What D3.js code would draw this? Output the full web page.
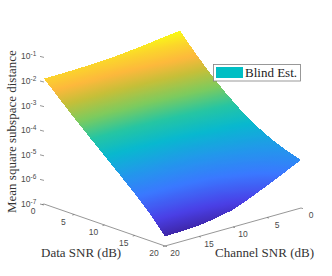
<!DOCTYPE html>
<html>
<head>
<meta charset="utf-8">
<script src="https://cdn.jsdelivr.net/npm/d3@7"></script>
<style>
  html, body { margin: 0; background: #fff; }
  svg { display: block; }
</style>
</head>
<body>
<div id="chart"></div>
<script>
const dataSnr = [0, 2.5, 5, 7.5, 10, 12.5, 15, 17.5, 20];
const channelSnr = [0, 2.5, 5, 7.5, 10, 12.5, 15, 17.5, 20];
// log10 of the mean square subspace distance, one row per channel SNR
const logMsd = [
  [-1.50, -2.18, -2.81, -3.37, -3.86, -4.27, -4.60, -4.85, -5.05],
  [-1.58, -2.25, -2.87, -3.43, -3.93, -4.37, -4.75, -5.07, -5.38],
  [-1.67, -2.31, -2.92, -3.48, -4.00, -4.47, -4.89, -5.30, -5.71],
  [-1.75, -2.38, -2.98, -3.54, -4.06, -4.56, -5.03, -5.51, -6.02],
  [-1.82, -2.44, -3.03, -3.59, -4.12, -4.65, -5.16, -5.70, -6.30],
  [-1.86, -2.47, -3.05, -3.61, -4.16, -4.69, -5.23, -5.80, -6.45],
  [-1.88, -2.49, -3.07, -3.63, -4.18, -4.72, -5.27, -5.87, -6.55],
  [-1.90, -2.50, -3.08, -3.64, -4.19, -4.74, -5.29, -5.90, -6.59],
  [-1.90, -2.50, -3.08, -3.64, -4.19, -4.74, -5.30, -5.91, -6.61]
];
const snrTicks = [0, 5, 10, 15, 20];
const zTicks = [-7, -6, -5, -4, -3, -2, -1];
const colorStops = [0, 0.1, 0.24, 0.35, 0.47, 0.57, 0.67, 0.77, 0.85, 0.93, 1];
const colorValues = ["#3e26a8", "#4a3fe6", "#3a78ff", "#2396ec", "#08b8cf", "#25c5a3", "#7ccb5e", "#c6bf38", "#fdb83c", "#fbd62b", "#f9fb15"];
const legendLabel = "Blind Est.";

const width = 332, height = 276;

const svg = d3.select("#chart").append("svg")
  .attr("width", width)
  .attr("height", height);
const defs = svg.append("defs");

// Oblique projection: the floor is spanned by the two SNR axes, z goes straight up
const dataX = d3.scaleLinear([0, 20], [0, 121]);
const dataY = d3.scaleLinear([0, 20], [0, 42]);
const chanX = d3.scaleLinear([20, 0], [0, 136]);
const chanY = d3.scaleLinear([20, 0], [0, -38]);
const zPx = d3.scaleLinear([-7, -1], [0, 147.6]);
const project = (d, c, z) => [
  44 + dataX(d) + chanX(c),
  204 + dataY(d) + chanY(c) - zPx(z)
];

const flat = logMsd.flat();
const colorT = d3.scaleLinear([d3.min(flat), d3.max(flat)], [0, 1]);
const colorOf = d3.scaleLinear(colorStops, colorValues);

// Two triangles per cell, back to front
const triangles = [];
channelSnr.slice(0, -1).forEach((_, ci) => {
  dataSnr.slice(0, -1).forEach((_, di) => {
    const v = (i, j) => ({
      p: project(dataSnr[i], channelSnr[j], logMsd[j][i]),
      z: logMsd[j][i]
    });
    triangles.push([v(di, ci), v(di + 1, ci), v(di, ci + 1)]);
    triangles.push([v(di + 1, ci), v(di + 1, ci + 1), v(di, ci + 1)]);
  });
});

// Colour follows z, and z is linear across a triangle, so a linear gradient fits
function triangleFill(tri, i) {
  const [a, b, c] = tri;
  const ux = b.p[0] - a.p[0], uy = b.p[1] - a.p[1], uz = b.z - a.z;
  const vx = c.p[0] - a.p[0], vy = c.p[1] - a.p[1], vz = c.z - a.z;
  const det = ux * vy - uy * vx;
  const gx = (uz * vy - vz * uy) / det;
  const gy = (ux * vz - vx * uz) / det;
  const zMin = d3.min(tri, t => t.z), zMax = d3.max(tri, t => t.z);
  const g2 = gx * gx + gy * gy;
  if (zMax - zMin < 1e-6 || g2 === 0) return colorOf(colorT(zMin));
  const start = tri.find(t => t.z === zMin).p;
  const span = (zMax - zMin) / g2;
  const grad = defs.append("linearGradient")
    .attr("id", "tri" + i)
    .attr("gradientUnits", "userSpaceOnUse")
    .attr("x1", start[0]).attr("y1", start[1])
    .attr("x2", start[0] + gx * span).attr("y2", start[1] + gy * span);
  d3.range(0, 1.01, 0.1).forEach(f => {
    grad.append("stop")
      .attr("offset", f)
      .attr("stop-color", colorOf(colorT(zMin + f * (zMax - zMin))));
  });
  return "url(#tri" + i + ")";
}

// crispEdges so neighbouring triangles meet without antialiased seams
svg.append("g")
  .attr("shape-rendering", "crispEdges")
  .selectAll("path")
  .data(triangles)
  .join("path")
  .attr("d", d => "M" + d.map(t => t.p.join(",")).join("L") + "Z")
  .each(function (d, i) {
    d3.select(this).attr("fill", triangleFill(d, i));
  });

// Axes
const axisColor = "#6a6a6a";
const tickFont = "Liberation Sans, Arial, sans-serif";
const axes = svg.append("g")
  .attr("stroke", axisColor)
  .attr("stroke-width", 0.7)
  .attr("fill", "none");

const axisLine = d3.line();
axes.append("path").attr("d", axisLine([project(0, 20, -7), project(20, 20, -7), project(20, 0, -7)]));

axes.selectAll(".zt").data(zTicks).join("line")
  .attr("class", "zt")
  .attr("x1", d => project(0, 20, d)[0] - 4).attr("x2", d => project(0, 20, d)[0])
  .attr("y1", d => project(0, 20, d)[1]).attr("y2", d => project(0, 20, d)[1] + 1);
axes.selectAll(".dt").data(snrTicks).join("line")
  .attr("class", "dt")
  .attr("x1", d => project(d, 20, -7)[0]).attr("x2", d => project(d, 20, -7)[0] - 2)
  .attr("y1", d => project(d, 20, -7)[1]).attr("y2", d => project(d, 20, -7)[1] + 0.6);
axes.selectAll(".ct").data(snrTicks).join("line")
  .attr("class", "ct")
  .attr("x1", d => project(20, d, -7)[0]).attr("x2", d => project(20, d, -7)[0] + 2)
  .attr("y1", d => project(20, d, -7)[1]).attr("y2", d => project(20, d, -7)[1] + 0.6);

const tickText = svg.append("g")
  .attr("font-family", tickFont)
  .attr("font-size", 8.5)
  .attr("fill", "#4a4a4a");

const zLabel = tickText.selectAll(".zl").data(zTicks).join("text")
  .attr("class", "zl")
  .attr("x", d => project(0, 20, d)[0] - 23)
  .attr("y", d => project(0, 20, d)[1] + 3);
zLabel.append("tspan").text("10");
zLabel.append("tspan").attr("dy", -3.5).attr("font-size", 6.5).text(d => d);

tickText.selectAll(".dl").data(snrTicks).join("text")
  .attr("class", "dl")
  .attr("text-anchor", "middle")
  .attr("x", d => project(d, 20, -7)[0] - 11)
  .attr("y", d => project(d, 20, -7)[1] + 10)
  .text(d => d);
tickText.selectAll(".cl").data(snrTicks).join("text")
  .attr("class", "cl")
  .attr("text-anchor", "middle")
  .attr("x", d => project(20, d, -7)[0] + 10)
  .attr("y", d => project(20, d, -7)[1] + 10)
  .text(d => d);

// Axis titles
const titleFont = "Liberation Serif, Times New Roman, serif";
const titles = svg.append("g")
  .attr("font-family", titleFont)
  .attr("font-size", 13)
  .attr("fill", "#333");
titles.append("text").attr("x", 41).attr("y", 256.5).text("Data SNR (dB)");
titles.append("text").attr("x", 215).attr("y", 256.5).attr("textLength", 99).text("Channel SNR (dB)");
titles.append("text")
  .attr("transform", "translate(16,213) rotate(-90)")
  .text("Mean square subspace distance");

// Legend
const legend = svg.append("g");
legend.append("rect")
  .attr("x", 213.5).attr("y", 64.5).attr("width", 87).attr("height", 16.5)
  .attr("fill", "#fff").attr("stroke", "#7f7f7f").attr("stroke-width", 0.8);
legend.append("rect")
  .attr("x", 216).attr("y", 67).attr("width", 27).attr("height", 11)
  .attr("fill", "#00bfc4");
legend.append("text")
  .attr("x", 245).attr("y", 77)
  .attr("font-family", titleFont).attr("font-size", 13).attr("fill", "#222")
  .text(legendLabel);
</script>
</body>
</html>
